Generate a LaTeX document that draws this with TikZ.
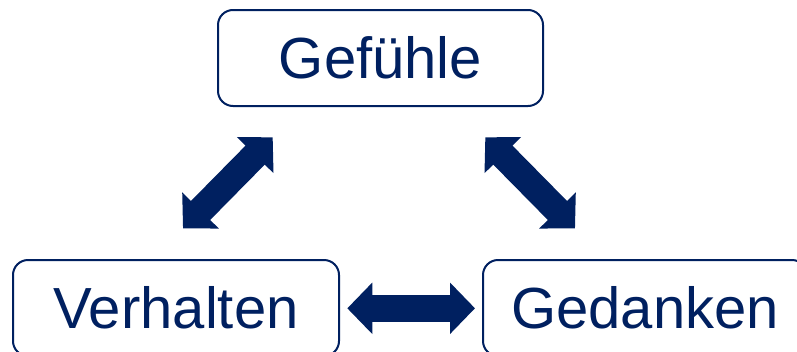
\documentclass[tikz,border=0pt]{standalone}
\usepackage{fontspec}
\setmainfont{Liberation Sans}
\usetikzlibrary{arrows.meta}
\definecolor{navy}{RGB}{0,32,96}
\begin{document}
\begin{tikzpicture}[x=1pt,y=-1pt,
  box/.style={draw=navy, line width=2pt, rounded corners=15pt, fill=white,
    text=navy, minimum height=96pt, inner sep=0pt,
    font=\fontsize{58}{60}\selectfont},
  link/.style={navy, line width=27pt,
    {Triangle[width=50pt,length=25pt]}-{Triangle[width=50pt,length=25pt]}}]
\useasboundingbox (0,0) rectangle (797,351);
\clip (0,0) rectangle (797,351);

% the three boxes
\node[box, minimum width=325pt] (gef) at (380.5,58) {Gefühle};
\node[box, minimum width=326pt] (verh) at (176,308) {Verhalten};
\node[box, minimum width=324pt] (ged) at (645,308) {Gedanken};

% arrow ends
\coordinate (gefL) at (272.7,137.3);
\coordinate (verhT) at (183,228.3);
\coordinate (gefR) at (485.3,137.3);
\coordinate (gedT) at (575,228.3);
\coordinate (verhR) at (347.3,308.3);
\coordinate (gedL) at (475,308.3);

% double-headed block arrows between the boxes
\draw[link] (gefL) -- (verhT);
\draw[link] (gefR) -- (gedT);
\draw[link] (verhR) -- (gedL);
\end{tikzpicture}
\end{document}
